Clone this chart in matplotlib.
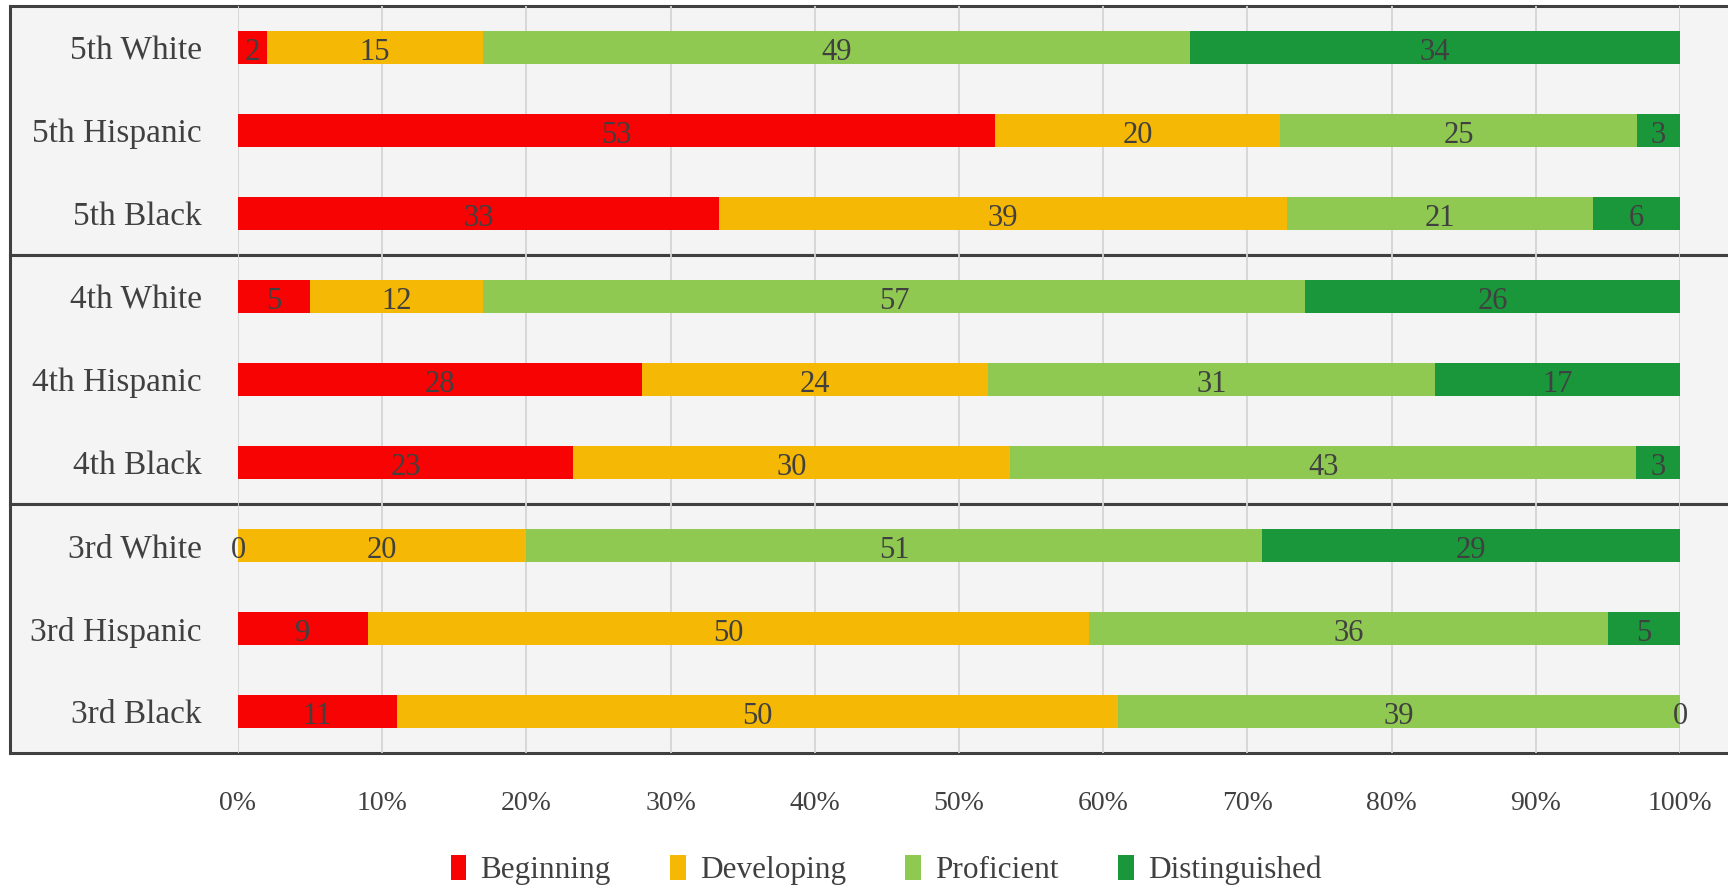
import matplotlib.pyplot as plt
from matplotlib.patches import Rectangle
import numpy as np

# DATA
groups = ['5th White', '5th Hispanic', '5th Black',
          '4th White', '4th Hispanic', '4th Black',
          '3rd White', '3rd Hispanic', '3rd Black']
levels = ['Beginning', 'Developing', 'Proficient', 'Distinguished']
beginning = [2, 53, 33, 5, 28, 23, 0, 9, 11]
developing = [15, 20, 39, 12, 24, 30, 20, 50, 50]
proficient = [49, 25, 21, 57, 31, 43, 51, 36, 39]
distinguished = [34, 3, 6, 26, 17, 3, 29, 5, 0]
xticks = [0, 0.1, 0.2, 0.3, 0.4, 0.5, 0.6, 0.7, 0.8, 0.9, 1.0]

colors = ['#F70303', '#F5B805', '#8FC951', '#1A963B']
txt = '#404040'

plt.rcParams['font.family'] = ['Liberation Serif', 'DejaVu Serif']

W, H = 1728, 891
fig = plt.figure(figsize=(W / 100, H / 100), dpi=100)
fig.patch.set_facecolor('white')

# grey boxes around each grade
box_top, box_h = 6, 249
for i in range(3):
    y0 = H - (box_top + (i + 1) * box_h)
    fig.patches.append(Rectangle((10 / W, y0 / H), 1.0, box_h / H,
                                 transform=fig.transFigure,
                                 facecolor='#F4F4F4', edgecolor='#404040',
                                 linewidth=2.2, zorder=-1))

ax = fig.add_axes([238 / W, 1 - (box_top + 3 * box_h) / H,
                   (1680 - 238) / W, 3 * box_h / H])
ax.set_zorder(2)
ax.set_facecolor('none')

series = np.array([beginning, developing, proficient, distinguished], dtype=float)
totals = series.sum(axis=0)
shares = series / totals
y = np.arange(len(groups))
left = np.zeros(len(groups))
for k, name in enumerate(levels):
    ax.barh(y, shares[k], left=left, height=0.4, color=colors[k],
            label=name, zorder=3)
    for j in range(len(groups)):
        ax.text(left[j] + shares[k][j] / 2, y[j] + 0.06, '%d' % series[k][j],
                ha='center', va='center', fontsize=22, color=txt, zorder=4)
    left = left + shares[k]

ax.set_ylim(len(groups) - 0.5, -0.5)
ax.set_xlim(0, 1)
ax.set_yticks(y)
ax.set_yticklabels(groups)
ax.set_xticks(xticks)
ax.set_xticklabels(['%d%%' % round(t * 100) for t in xticks])
ax.tick_params(axis='y', length=0, pad=26, labelsize=24, labelcolor=txt)
ax.tick_params(axis='x', length=0, pad=27, labelsize=20, labelcolor=txt)
ax.grid(axis='x', color='#D4D4D4', linewidth=1.3, zorder=0)
ax.set_axisbelow(True)
for s in ax.spines.values():
    s.set_visible(False)

fig.legend(loc='center', bbox_to_anchor=(886 / W, 1 - 870 / H), ncol=4,
           frameon=False, fontsize=22.5, labelcolor=txt, handlelength=0.5,
           handleheight=0.85, handletextpad=0.45, columnspacing=1.9)

fig.savefig('out.png', dpi=100)
